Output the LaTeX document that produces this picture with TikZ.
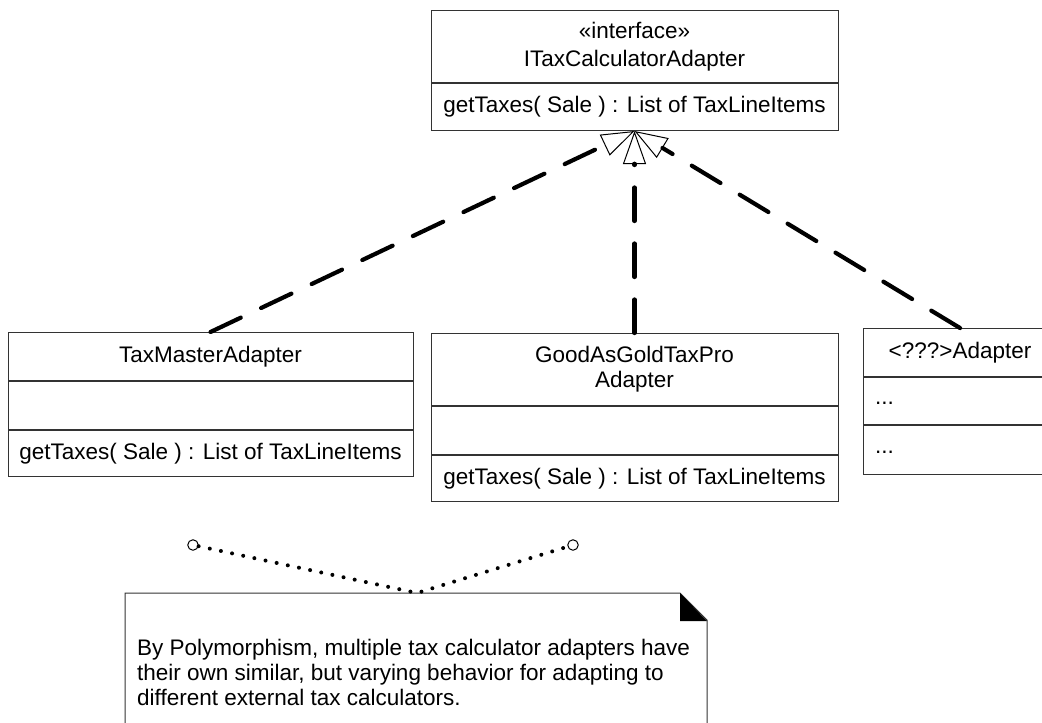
\documentclass[tikz,border=0pt]{standalone}
\usepackage{fontspec}
\setmainfont{Liberation Sans}
\usetikzlibrary{arrows.meta}
\tikzset{
  cls/.style={draw=black!80, line width=1pt, inner sep=0pt, align=center,
    font=\fontsize{22.5}{27}\selectfont},
  lbl/.style={inner sep=0pt, font=\fontsize{22.5}{27}\selectfont},
  realize/.style={line width=4.2pt, line cap=round, dash pattern=on 33.5pt off 22.5pt,
    -{Triangle[open, length=33pt 0 0, width=23pt 0 0, line width=1pt]}},
  anchorline/.style={line width=4pt, line cap=round, dash pattern=on 0pt off 11.4pt},
  pin/.style={circle, draw=black, line width=1pt, minimum size=10.5pt, inner sep=0pt},
  notebox/.style={draw=black!80, line width=1pt}
}
\begin{document}
\begin{tikzpicture}[x=1pt,y=-1pt]
\clip (0,0) rectangle (1042,723);
\useasboundingbox (0,0) rectangle (1042,723);
% interface
\node[cls, minimum width=407pt, minimum height=72pt, anchor=north,
  font=\fontsize{22.5}{28}\selectfont] (ifc) at (634.5,10) {«interface»\\ITaxCalculatorAdapter};
\node[cls, minimum width=407pt, minimum height=47pt, anchor=north] (ifcops) at (ifc.south) {getTaxes( Sale ) : List of TaxLineItems};
% TaxMasterAdapter
\node[cls, minimum width=405pt, minimum height=48pt, anchor=north] (tma) at (210.5,332) {TaxMasterAdapter};
\node[cls, minimum width=405pt, minimum height=48pt, anchor=north] (tmaattr) at (tma.south) {};
\node[cls, minimum width=405pt, minimum height=46pt, anchor=north] (tmaops) at (tmaattr.south) {getTaxes( Sale ) : List of TaxLineItems};
% GoodAsGoldTaxProAdapter
\node[cls, minimum width=407pt, minimum height=72pt, anchor=north,
  font=\fontsize{22.5}{25}\selectfont] (gag) at (634.5,333) {GoodAsGoldTaxPro\\Adapter};
\node[cls, minimum width=407pt, minimum height=48pt, anchor=north] (gagattr) at (gag.south) {};
\node[cls, minimum width=407pt, minimum height=46pt, anchor=north] (gagops) at (gagattr.south) {getTaxes( Sale ) : List of TaxLineItems};
% <???>Adapter
\node[cls, minimum width=194pt, minimum height=48pt, anchor=north] (unk) at (960,328) {<???>Adapter};
\node[cls, minimum width=194pt, minimum height=47pt, anchor=north] (unkattr) at (unk.south) {};
\node[cls, minimum width=194pt, minimum height=49pt, anchor=north] (unkops) at (unkattr.south) {};
\node[lbl, anchor=base west] (unkattrtxt) at (875,404) {...};
\node[lbl, anchor=base west] (unkopstxt) at (875,453) {...};
% realizations
\draw[realize] (tma.north) -- (ifcops.south);
\draw[realize] (gag.north) -- (ifcops.south);
\draw[realize] (unk.north) -- (ifcops.south);
% note
\draw[notebox] (125,740) -- (125,593) -- (680,593) -- (707,620) -- (707,740);
\fill[black] (680,593) -- (680,621) -- (707,621) -- cycle;
\node[lbl, anchor=north west, align=left, font=\fontsize{22.5}{25}\selectfont] (notetxt) at (137,638.5)
  {By Polymorphism, multiple tax calculator adapters have\\their own similar, but varying behavior for adapting to\\different external tax calculators.};
\coordinate (notetop) at (417,593);
\node[pin] (p1) at (193,545) {};
\node[pin] (p2) at (573,545) {};
\draw[anchorline] (p1) -- (notetop) -- (p2);
\end{tikzpicture}
\end{document}
